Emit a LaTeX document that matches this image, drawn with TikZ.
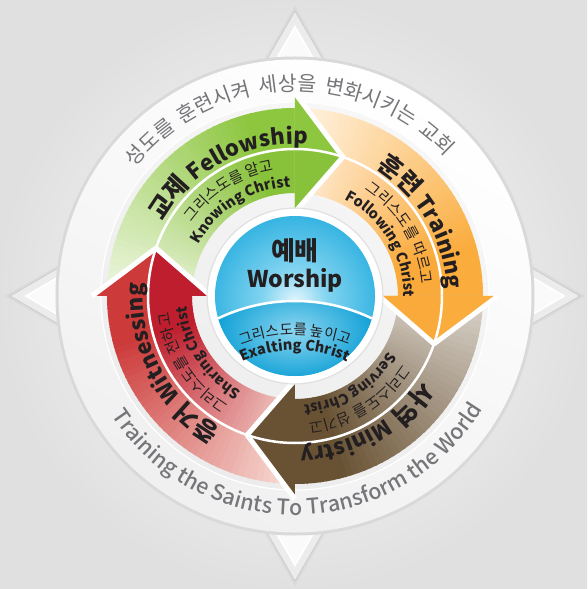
\documentclass[tikz,border=0pt]{standalone}
\usepackage{fontspec}
\setmainfont{Noto Sans CJK KR}
\newfontfamily\krmed{Noto Sans CJK KR Medium}
\usetikzlibrary{decorations.text}
\definecolor{txt}{RGB}{35,31,32}
\definecolor{gtxt}{RGB}{118,118,122}
\definecolor{gF}{RGB}{141,198,63}
\definecolor{gP}{RGB}{236,245,222}
\definecolor{gFi}{RGB}{136,194,58}
\definecolor{gPi}{RGB}{232,243,216}
\definecolor{oF}{RGB}{250,172,60}
\definecolor{oP}{RGB}{255,242,224}
\definecolor{oFi}{RGB}{250,170,58}
\definecolor{oPi}{RGB}{255,238,218}
\definecolor{bF}{RGB}{105,82,52}
\definecolor{bP}{RGB}{216,209,200}
\definecolor{bFi}{RGB}{105,82,52}
\definecolor{bPi}{RGB}{216,209,200}
\definecolor{rF}{RGB}{204,58,58}
\definecolor{rP}{RGB}{246,218,210}
\definecolor{rFi}{RGB}{190,30,45}
\definecolor{rPi}{RGB}{243,208,201}
\definecolor{sA}{RGB}{230,247,253}
\definecolor{sB}{RGB}{130,212,240}
\definecolor{sC}{RGB}{35,172,222}
\definecolor{sD}{RGB}{0,140,200}
\definecolor{lA}{RGB}{140,214,240}
\definecolor{lB}{RGB}{15,160,214}
\pgfdeclareradialshading{sphup}{\pgfpoint{0bp}{-2bp}}{color(0bp)=(sA); color(10bp)=(sB); color(30bp)=(sC); color(50bp)=(sD)}
\newcommand\mkband[5]{%
  \foreach \i in {0,...,44}{
    \pgfmathsetmacro\aA{#1+90-2*\i}
    \pgfmathsetmacro\aB{\aA-2.5}
    \pgfmathtruncatemacro\u{max(0,min(100,(2*\i-1)*100/73))}
    \fill[#3!\u!#2] (\aA:147) arc[start angle=\aA, end angle=\aB, radius=147] -- (\aB:188) arc[start angle=\aB, end angle=\aA, radius=188] -- cycle;
    \fill[#5!\u!#4] (\aA:103) arc[start angle=\aA, end angle=\aB, radius=103] -- (\aB:147) arc[start angle=\aB, end angle=\aA, radius=147] -- cycle;
  }
  \pgfmathsetmacro\aS{#1+90}
  \draw[white, line width=2.5pt] (\aS:147) arc[start angle=\aS, end angle=#1, radius=147];
}
\newcommand\mkhead[3]{%
  \pgfmathsetmacro\tA{#1-19}
  \fill[#2] (#1:84) -- (#1:203) -- (\tA:147) -- cycle;
  \begin{scope}
    \clip (0,0) circle (147);
    \fill[#3] (#1:84) -- (#1:203) -- (\tA:147) -- cycle;
  \end{scope}
  \draw[white, line width=5pt, line join=round] (#1:203) -- (\tA:147) -- (#1:84);
  \draw[white, line width=2.5pt] (#1:147) arc[start angle=#1, end angle=\tA, radius=147];
}
\newcommand\biglab[3]{%
  \pgfmathsetmacro\sA{#1+42}\pgfmathsetmacro\sB{#1-42}
  \path[decorate, decoration={text along path, text align=center, text color=txt,
    text={|\bfseries\fontsize{25}{25}\selectfont|#2 |\bfseries\fontsize{22}{22}\selectfont|#3}}]
    (\sA:152) arc[start angle=\sA, end angle=\sB, radius=152];
}
\newcommand\smlab[3]{%
  \pgfmathsetmacro\sA{#1+42}\pgfmathsetmacro\sB{#1-42}
  \path[decorate, decoration={text along path, text align=center, text color=txt,
    text={|\fontsize{15}{15}\selectfont|#2}}]
    (\sA:127) arc[start angle=\sA, end angle=\sB, radius=127];
  \path[decorate, decoration={text along path, text align=center, text color=txt,
    text={|\bfseries\fontsize{14.5}{14.5}\selectfont|#3}}]
    (\sA:109) arc[start angle=\sA, end angle=\sB, radius=109];
}
\begin{document}
\begin{tikzpicture}[x=1pt,y=1pt]
\useasboundingbox (-295,-293) rectangle (292,296);
% background
\shade[inner color=white!98!gray, outer color=gray!24] (-295,-293) rectangle (292,296);
% compass star
\fill[gray!60, opacity=.16] (90:290) -- (135:150) -- (180:290) -- (225:150) -- (270:290) -- (315:150) -- (0:290) -- (45:150) -- cycle;
\fill[gray!15] (90:285) -- (135:148) -- (180:285) -- (225:148) -- (270:285) -- (315:148) -- (0:285) -- (45:148) -- cycle;
\draw[gray!40, line width=0.8pt] (90:285) -- (135:148) -- (180:285) -- (225:148) -- (270:285) -- (315:148) -- (0:285) -- (45:148) -- cycle;
\fill[white!96!gray] (90:269) -- (135:139.8) -- (180:269) -- (225:139.8) -- (270:269) -- (315:139.8) -- (0:269) -- (45:139.8) -- cycle;
\draw[white, line width=1.8pt] (90:269) -- (135:139.8) -- (180:269) -- (225:139.8) -- (270:269) -- (315:139.8) -- (0:269) -- (45:139.8) -- cycle;
% disc
\fill[gray!30] (0,0) circle (239.5);
\shade[top color=white, bottom color=gray!12, shading angle=-30] (0,0) circle (236.5);
\shade[top color=gray!6, bottom color=gray!15, shading angle=-30] (0,0) circle (194);
\draw[white, line width=1.2pt] (0,0) circle (194);
% ring texts
\path[decorate, decoration={text along path, text align=center, text color=gtxt,
  text={|\fontsize{20.5}{20.5}\selectfont\fontdimen2\font=8pt|성도를 훈련시켜 세상을 변화시키는 교회}}]
  (162:205) arc[start angle=162, end angle=22, radius=205];
\path[decorate, decoration={text along path, text align=center, text color=gtxt,
  text={|\krmed\fontsize{21.5}{21.5}\selectfont|Training the Saints To Transform the World}}]
  (201:219) arc[start angle=201, end angle=341, radius=219];
% arrow bodies
\mkband{90}{gP}{gF}{gPi}{gFi}
\mkband{0}{oP}{oF}{oPi}{oFi}
\mkband{-90}{bP}{bF}{bPi}{bFi}
\mkband{180}{rP}{rF}{rPi}{rFi}
% arrow heads
\mkhead{90}{gF}{gFi}
\mkhead{0}{oF}{oFi}
\mkhead{-90}{bF}{bFi}
\mkhead{180}{rF}{rFi}
% labels
\biglab{118}{교제}{Fellowship}
\biglab{30}{훈련}{Training}
\biglab{-61}{사역}{Ministry}
\biglab{208}{증거}{Witnessing}
\smlab{122}{그리스도를 알고}{Knowing Christ}
\smlab{31}{그리스도를 따르고}{Following Christ}
\smlab{-58}{그리스도를 섬기고}{Serving Christ}
\smlab{213}{그리스도를 전하고}{Sharing Christ}
% center sphere
\fill[white] (0,0) circle (87);
\draw[gray!25, line width=1pt] (0,0) circle (88);
\shade[shading=sphup] (0,0) circle (80);
\begin{scope}
  \clip (0,0) circle (80);
  \clip (0,-183) circle (178);
  \shade[inner color=lA, outer color=lB] (-80,-85) rectangle (80,15);
\end{scope}
\begin{scope}
  \clip (0,0) circle (80);
  \draw[white, line width=2.5pt] (0,-183) circle (178);
\end{scope}
\node[text=txt, font=\bfseries\fontsize{26}{26}\selectfont, inner sep=0pt] (wk) at (0,45) {예배};
\node[text=txt, font=\bfseries\fontsize{23}{23}\selectfont, inner sep=0pt] (we) at (0,16) {Worship};
\begin{scope}[shift={(0,-183)}]
\path[decorate, decoration={text along path, text align=center, text color=txt,
  text={|\fontsize{14.5}{14.5}\selectfont|그리스도를 높이고}}]
  (125:144) arc[start angle=125, end angle=55, radius=144];
\path[decorate, decoration={text along path, text align=center, text color=txt,
  text={|\bfseries\fontsize{14.5}{14.5}\selectfont|Exalting Christ}}]
  (122:128.5) arc[start angle=122, end angle=58, radius=128.5];
\end{scope}
\end{tikzpicture}
\end{document}
